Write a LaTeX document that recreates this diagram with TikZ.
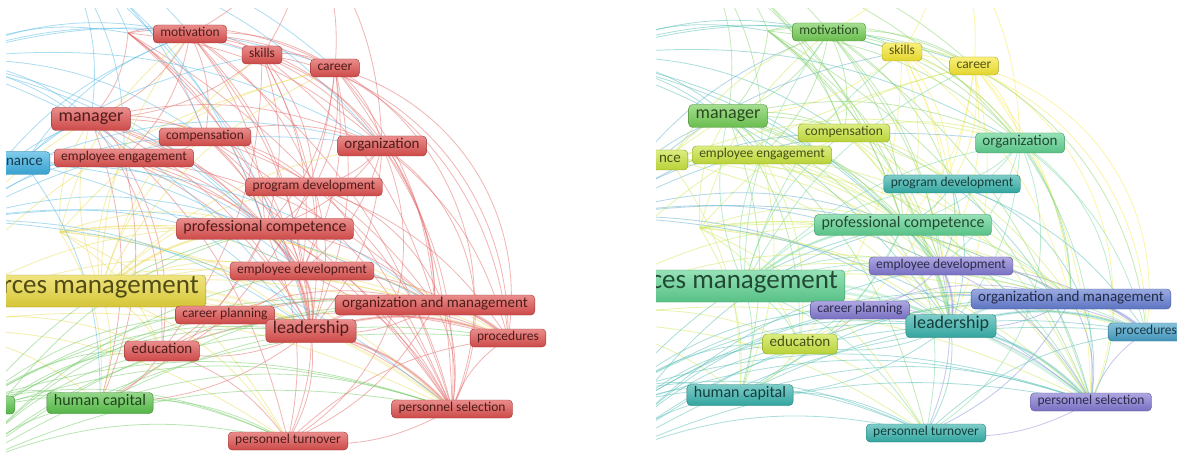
\documentclass[tikz,border=0pt]{standalone}
\usepackage{fontspec}
\setmainfont{Carlito}
\usetikzlibrary{backgrounds}

% cluster colours (left) and overlay colours (right)
\definecolor{kwred}{RGB}{222,80,78}
\definecolor{kwyel}{RGB}{232,214,60}
\definecolor{kwblu}{RGB}{60,175,225}
\definecolor{kwgrn}{RGB}{90,195,75}
\definecolor{vgrn}{RGB}{115,205,85}
\definecolor{vyel}{RGB}{246,232,50}
\definecolor{vlim}{RGB}{200,228,60}
\definecolor{vmnt}{RGB}{95,210,145}
\definecolor{vtea}{RGB}{55,178,172}
\definecolor{vcya}{RGB}{70,160,200}
\definecolor{vpur}{RGB}{130,120,210}
\definecolor{vblu}{RGB}{100,125,210}

% link colour of each keyword
\newcommand\kwcol[3]{\foreach \n in {#3}{\begingroup\edef\x{\endgroup\noexpand\xglobal\noexpand\colorlet{#1\n}{#2}}\x}}
\kwcol{L}{kwred}{mot,ski,car,man,com,org,eng,pgm,pco,edv,oam,cpl,lea,pro,edu,psl,ptu,h1,o6}
\kwcol{L}{kwyel}{hrm,h2,o3}
\kwcol{L}{kwblu}{prf,o1,o2,o5}
\kwcol{L}{kwgrn}{hca,gsl,o4,o7}
\kwcol{R}{vgrn}{mot,man,h1,o5}
\kwcol{R}{vyel}{ski,car,o6}
\kwcol{R}{vlim}{com,eng,edu,prf,h2,o3}
\kwcol{R}{vmnt}{org,pco,hrm}
\kwcol{R}{vtea}{pgm,lea,hca,ptu,o1,o4,o7,gsl}
\kwcol{R}{vcya}{pro,o2}
\kwcol{R}{vpur}{edv,cpl,psl}
\kwcol{R}{vblu}{oam}

% co-occurrence links
\newcommand\kwlinks{%
 mot/man, mot/ski, mot/car, mot/org, mot/lea, mot/pco, mot/com, mot/edv, mot/eng, mot/psl, mot/pgm,
 ski/car, ski/org, ski/pco, ski/lea, ski/edu, ski/man, ski/oam, ski/pgm, ski/edv,
 car/org, car/pgm, car/lea, car/cpl, car/edv, car/pco, car/psl, car/oam,
 man/com, man/eng, man/lea, man/org, man/pco, man/edv, man/hca, man/edu, man/ptu, man/pgm, man/psl,
 com/eng, com/org, com/lea, com/pgm, com/psl, com/oam, com/pco, com/edv,
 org/pgm, org/lea, org/oam, org/pro, org/pco, org/psl, org/edv,
 eng/lea, eng/edv, eng/hca, eng/pco, eng/oam, eng/psl, eng/edu,
 pgm/pco, pgm/lea, pgm/edv, pgm/pro, pgm/psl,
 pco/lea, pco/edv, pco/oam, pco/edu, pco/psl, pco/hca, pco/ptu,
 edv/lea, edv/cpl, edv/oam, edv/pro, edv/psl, edv/ptu,
 oam/lea, oam/pro, oam/psl, oam/ptu,
 cpl/lea, cpl/edu, cpl/psl, cpl/oam, cpl/pro,
 lea/pro, lea/psl, lea/ptu, lea/edu, lea/hca,
 edu/hca, edu/ptu, edu/oam, edu/pro, hca/ptu, hca/psl, hca/oam, hca/pro,
 psl/ptu, psl/pro, ptu/pro,
 hrm/mot, hrm/ski, hrm/car, hrm/man, hrm/com, hrm/org, hrm/eng, hrm/pgm,
 hrm/pco, hrm/edv, hrm/oam, hrm/cpl, hrm/pro, hrm/edu, hrm/hca, hrm/ptu,
 h1/mot, h1/man, h1/com, h1/org, h1/lea, h1/pco, h1/edv, h1/car, h1/psl,
 h2/lea, h2/oam, h2/pco, h2/edv, h2/hca, h2/edu, h2/psl, h2/pro, h2/man, h2/mot, h2/car, h2/ptu,
 o1/man, o1/mot, o1/org, o1/car, o1/ski, o1/lea, o1/h1, o1/pco, o1/eng, o1/com, o1/edv,
 o2/eng, o2/pco, o2/org, o2/lea, o2/psl, o2/com, o2/man, o2/mot, o2/ski, o2/edv, o2/oam,
 o3/pco, o3/lea, o3/oam, o3/pro, o3/psl, o3/ptu, o3/car, o3/edv, o3/cpl, o3/edu, o3/hca, o3/man,
 o4/hca, o4/edu, o4/lea, o4/ptu, o4/psl, o4/cpl, o4/edv, o4/oam, o4/pro,
 o5/man, o5/mot, o5/h1, o5/eng, o5/com, o5/org, o5/car, o5/lea, o5/pco,
 o6/car, o6/org, o6/ski, o6/mot,
 o7/hca, o7/edu, o7/lea, o7/pco, o7/ptu, o7/psl, o7/oam, o7/cpl,
 gsl/hca, gsl/lea, gsl/edu, gsl/psl, gsl/ptu, gsl/oam, gsl/pco,
 prf/man, prf/eng, prf/lea, prf/pco, prf/org, prf/mot, prf/edv, prf/hca, prf/oam}
\newcommand\kwheavy{lea/oam, lea/pro, hrm/lea, hrm/psl, lea/psl, edv/lea, pco/lea, hrm/pco, oam/pro}
\newcommand\kwarcs{car/pro, ski/pro, org/psl, car/psl, mot/oam, pgm/psl, org/ptu, mot/pro}

\tikzset{
  kw/.style={rounded corners=4pt, draw=#1!70!black, top color=#1!65!white,
    bottom color=#1!92!black, text=#1!35!black, inner xsep=7pt, inner ysep=0pt,
    text height=0.72em, text depth=0.22em},
  szS/.style={font=\fontsize{13.5}{13.5}\selectfont, minimum height=18pt},
  szM/.style={font=\fontsize{15}{15}\selectfont, minimum height=20pt},
  szC/.style={font=\fontsize{16}{16}\selectfont, minimum height=21pt},
  szL/.style={font=\fontsize{18}{18}\selectfont, minimum height=23pt},
  szX/.style={font=\fontsize{27}{27}\selectfont, minimum height=32pt},
  lnk/.style={draw=#1!85!white, draw opacity=.5, line width=.8pt},
  lnkH/.style={draw=#1!85!white, draw opacity=.3, line width=2.6pt}
}

\begin{document}
\begin{tikzpicture}[x=1pt,y=-1pt]
    \useasboundingbox (0,0) rectangle (1177,454);

    % Left panel: clusters
    \begin{scope}
        \clip (6,9) rectangle (650,452);
        \coordinate (Lh1) at (128,33);
        \coordinate (Lh2) at (60,232);
        \coordinate (Lo1) at (-60,60);
        \coordinate (Lo2) at (-40,220);
        \coordinate (Lo3) at (-90,330);
        \coordinate (Lo4) at (-40,470);
        \coordinate (Lo5) at (60,-50);
        \coordinate (Lo6) at (300,-80);
        \coordinate (Lo7) at (-20,400);
        \node[kw=kwred, szS] (Lmot) at (190,34) {motivation};
        \node[kw=kwred, szS] (Lski) at (262,55) {skills};
        \node[kw=kwred, szS] (Lcar) at (335,68) {career};
        \node[kw=kwred, szL] (Lman) at (91,119) {manager};
        \node[kw=kwred, szS] (Lcom) at (205,137) {compensation};
        \node[kw=kwred, szM] (Lorg) at (382,146) {organization};
        \node[kw=kwred, szS] (Leng) at (124,158) {employee engagement};
        \node[kw=kwblu, szM, minimum height=23pt, anchor=east] (Lprf) at (50,163) {nance};
        \node[kw=kwred, szS] (Lpgm) at (314,187) {program development};
        \node[kw=kwred, szC] (Lpco) at (265,229) {professional competence};
        \node[kw=kwred, szS] (Ledv) at (302,271) {employee development};
        \node[kw=kwyel, szX, anchor=east] (Lhrm) at (206,291) {rces management};
        \node[kw=kwred, szM] (Loam) at (435,305) {organization and management};
        \node[kw=kwred, szS] (Lcpl) at (225,315) {career planning};
        \node[kw=kwred, szL] (Llea) at (311,331) {leadership};
        \node[kw=kwred, szS] (Lpro) at (508,338) {procedures};
        \node[kw=kwred, szM] (Ledu) at (162,351) {education};
        \node[kw=kwgrn, szC] (Lhca) at (100,403) {human capital};
        \node[kw=kwgrn, szS, minimum width=30pt, anchor=east] (Lgsl) at (15,405) {};
        \node[kw=kwred, szS] (Lpsl) at (452,409) {personnel selection};
        \node[kw=kwred, szS] (Lptu) at (288,441) {personnel turnover};
    \end{scope}

    % Right panel: overlay by year
    \begin{scope}
        \clip (656,9) rectangle (1177,449);
        \coordinate (Rh1) at (768,31);
        \coordinate (Rh2) at (700,228);
        \coordinate (Ro1) at (579,57);
        \coordinate (Ro2) at (599,216);
        \coordinate (Ro3) at (549,324);
        \coordinate (Ro4) at (599,461);
        \coordinate (Ro5) at (699,-52);
        \coordinate (Ro6) at (939,-82);
        \coordinate (Ro7) at (619,392);
        \coordinate (Rgsl) at (640,400);
        \node[kw=vgrn, szS] (Rmot) at (829,32) {motivation};
        \node[kw=vyel, szS] (Rski) at (902,52) {skills};
        \node[kw=vyel, szS] (Rcar) at (974,66) {career};
        \node[kw=vgrn, szL] (Rman) at (728,116) {manager};
        \node[kw=vlim, szS] (Rcom) at (844,133) {compensation};
        \node[kw=vmnt, szM] (Rorg) at (1020,143) {organization};
        \node[kw=vlim, szS] (Reng) at (762,155) {employee engagement};
        \node[kw=vlim, szM, anchor=east] (Rprf) at (688,160) {nce};
        \node[kw=vtea, szS] (Rpgm) at (952,184) {program development};
        \node[kw=vmnt, szC] (Rpco) at (903,225) {professional competence};
        \node[kw=vpur, szS] (Redv) at (941,266) {employee development};
        \node[kw=vmnt, szX, anchor=east] (Rhrm) at (845,286) {ces management};
        \node[kw=vblu, szM] (Roam) at (1071,299) {organization and management};
        \node[kw=vpur, szS] (Rcpl) at (860,310) {career planning};
        \node[kw=vtea, szL] (Rlea) at (951,326) {leadership};
        \node[kw=vcya, szS] (Rpro) at (1146,332) {procedures};
        \node[kw=vlim, szM] (Redu) at (800,344) {education};
        \node[kw=vtea, szC] (Rhca) at (740,395) {human capital};
        \node[kw=vpur, szS] (Rpsl) at (1091,402) {personnel selection};
        \node[kw=vtea, szS] (Rptu) at (926,433) {personnel turnover};
    \end{scope}

    % Links under the labels
    \begin{pgfonlayer}{background}
        \fill[white] (0,0) rectangle (1177,454);
        \begin{scope}
            \clip (6,9) rectangle (650,452);
            \foreach \a/\b in \kwlinks {\draw[lnk=L\a] (L\a.center) to[bend left=18] (L\b.center);}
            \foreach \a/\b in \kwarcs {\draw[lnk=L\a] (L\a.center) to[bend left=42] (L\b.center);}
            \foreach \a/\b in \kwheavy {\draw[lnkH=L\a] (L\a.center) to[bend left=18] (L\b.center);}
        \end{scope}
        \begin{scope}
            \clip (656,9) rectangle (1177,449);
            \foreach \a/\b in \kwlinks {\draw[lnk=R\a] (R\a.center) to[bend left=18] (R\b.center);}
            \foreach \a/\b in \kwarcs {\draw[lnk=R\a] (R\a.center) to[bend left=42] (R\b.center);}
            \foreach \a/\b in \kwheavy {\draw[lnkH=R\a] (R\a.center) to[bend left=18] (R\b.center);}
        \end{scope}
    \end{pgfonlayer}
\end{tikzpicture}
\end{document}
